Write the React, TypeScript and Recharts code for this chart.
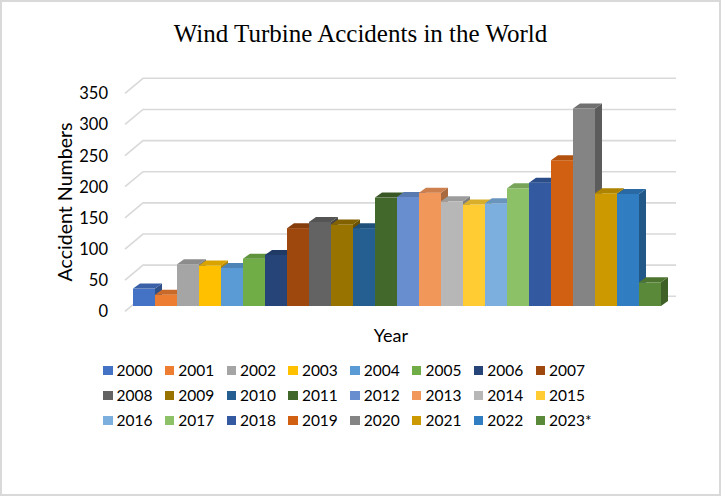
import { BarChart, Bar, XAxis, YAxis, CartesianGrid, Legend } from "recharts";

const years = [
  "2000", "2001", "2002", "2003", "2004", "2005", "2006", "2007",
  "2008", "2009", "2010", "2011", "2012", "2013", "2014", "2015",
  "2016", "2017", "2018", "2019", "2020", "2021", "2022", "2023*",
];
const accidents = [
  28, 18, 67, 65, 61, 76, 82, 125, 135, 131, 125, 174,
  175, 182, 168, 163, 165, 189, 198, 234, 317, 181, 180, 38,
];
const colors = [
  "#4472C4", "#ED7D31", "#A5A5A5", "#FFC000", "#5B9BD5", "#70AD47", "#264478", "#9E480E",
  "#636363", "#997300", "#255E91", "#43682B", "#698ED0", "#F1975A", "#B7B7B7", "#FFCD33",
  "#7CAFDD", "#8CC168", "#335AA1", "#D26012", "#848484", "#CC9A00", "#307DC2", "#5A8A39",
];
const yTicks = [0, 50, 100, 150, 200, 250, 300, 350];

const row: Record<string, number | string> = { name: "" };
years.forEach((_, i) => (row[`s${i}`] = accidents[i]));
const data = [row];

const FONT = "Lato, 'Open Sans', sans-serif";
const DX = 7;
const DY = 5;

function shade(hex: string, k: number) {
  const n = parseInt(hex.slice(1), 16);
  const r = Math.round(((n >> 16) & 255) * k);
  const g = Math.round(((n >> 8) & 255) * k);
  const b = Math.round((n & 255) * k);
  return `rgb(${r},${g},${b})`;
}

function Bar3D(props: any) {
  const { x, y, width, height, fill } = props;
  if (width == null || height == null) return null;
  const top = `${x},${y} ${x + width},${y} ${x + width + DX},${y - DY} ${x + DX},${y - DY}`;
  const side = `${x + width},${y} ${x + width + DX},${y - DY} ${x + width + DX},${y + height - DY} ${x + width},${y + height}`;
  return (
    <g>
      <polygon points={side} fill={shade(fill, 0.7)} />
      <rect x={x} y={y} width={width} height={height} fill={fill} />
      <polygon points={top} fill={shade(fill, 0.85)} />
    </g>
  );
}

function GridLine(props: any) {
  const { x1, x2, y1 } = props;
  const d = `M${x1 - 8},${y1 + 5.3} L${x1 + 10},${y1 - 9.7} L${x2 + 15},${y1 - 9.7}`;
  return <path key={props.key} d={d} fill="none" stroke="#d9d9d9" strokeWidth={1.6} />;
}

function YTick(props: any) {
  const { x, y, payload } = props;
  return (
    <text x={x} y={y + 5.4} dy="0.36em" textAnchor="end" fontFamily={FONT} fontSize={16.5} fill="#000">
      {payload.value}
    </text>
  );
}

function YLabel(props: any) {
  const vb = props.viewBox || {};
  const cx = vb.x + 19.5;
  const cy = vb.y + vb.height / 2 + 5;
  return (
    <text
      x={cx}
      y={cy}
      transform={`rotate(-90 ${cx} ${cy})`}
      textAnchor="middle"
      fontFamily={FONT}
      fontSize={19.6}
      fill="#000"
    >
      Accident Numbers
    </text>
  );
}

function LegendGrid(props: any) {
  const items = props.payload || [];
  return (
    <div style={{ height: 75, width: 8 * 61.8, marginLeft: 103, display: "flex", flexWrap: "wrap" }}>
      {items.map((it: any) => (
        <div key={it.value} style={{ width: 61.8, height: 25, display: "flex", alignItems: "center" }}>
          <span style={{ width: 9.5, height: 9.5, background: it.color, marginRight: 4, flex: "none" }} />
          <span style={{ fontFamily: FONT, fontSize: 15.5, color: "#000", lineHeight: "25px" }}>{it.value}</span>
        </div>
      ))}
    </div>
  );
}

export default function App() {
  return (
    <div style={{ position: "relative", width: 721, height: 496, background: "#fff" }}>
      <style>{"body{margin:0}"}</style>
      <div
        style={{
          position: "absolute", left: 0, top: 0, width: 721, height: 496, boxSizing: "border-box",
          border: "2px solid #d9d9d9",
        }}
      />
      <div
        style={{
          position: "absolute", left: 0, top: 20.8, width: 721, textAlign: "center",
          fontFamily: "'Liberation Serif', 'Times New Roman', serif", fontSize: 25, lineHeight: "25px", color: "#000",
        }}
      >
        Wind Turbine Accidents in the World
      </div>
      <div style={{ position: "absolute", left: 0, top: 0 }}>
        <BarChart
          width={721}
          height={496}
          data={data}
          margin={{ top: 88, right: 60, left: 52, bottom: 63 }}
          barCategoryGap="0%"
          barGap={0}
        >
          <CartesianGrid vertical={false} horizontal={(p: any) => <GridLine {...p} />} />
          <XAxis
            dataKey="name"
            tick={false}
            axisLine={false}
            tickLine={false}
            height={52}
            label={{ value: "Year", position: "insideTop", offset: 23, dx: -6, fontFamily: FONT, fontSize: 18, fill: "#000" }}
          />
          <YAxis
            type="number"
            domain={[0, 350]}
            ticks={yTicks}
            axisLine={false}
            tickLine={false}
            tickSize={0}
            tickMargin={25}
            width={81}
            tick={<YTick />}
            label={{ content: (p: any) => <YLabel {...p} /> }}
          />
          <Legend
            verticalAlign="bottom"
            height={75}
            wrapperStyle={{ left: 0, width: 721 }}
            content={<LegendGrid />}
          />
          {years.map((yr, i) => (
            <Bar
              key={yr}
              dataKey={`s${i}`}
              name={yr}
              fill={colors[i]}
              shape={(p: any) => <Bar3D {...p} />}
              isAnimationActive={false}
            />
          ))}
        </BarChart>
      </div>
    </div>
  );
}
